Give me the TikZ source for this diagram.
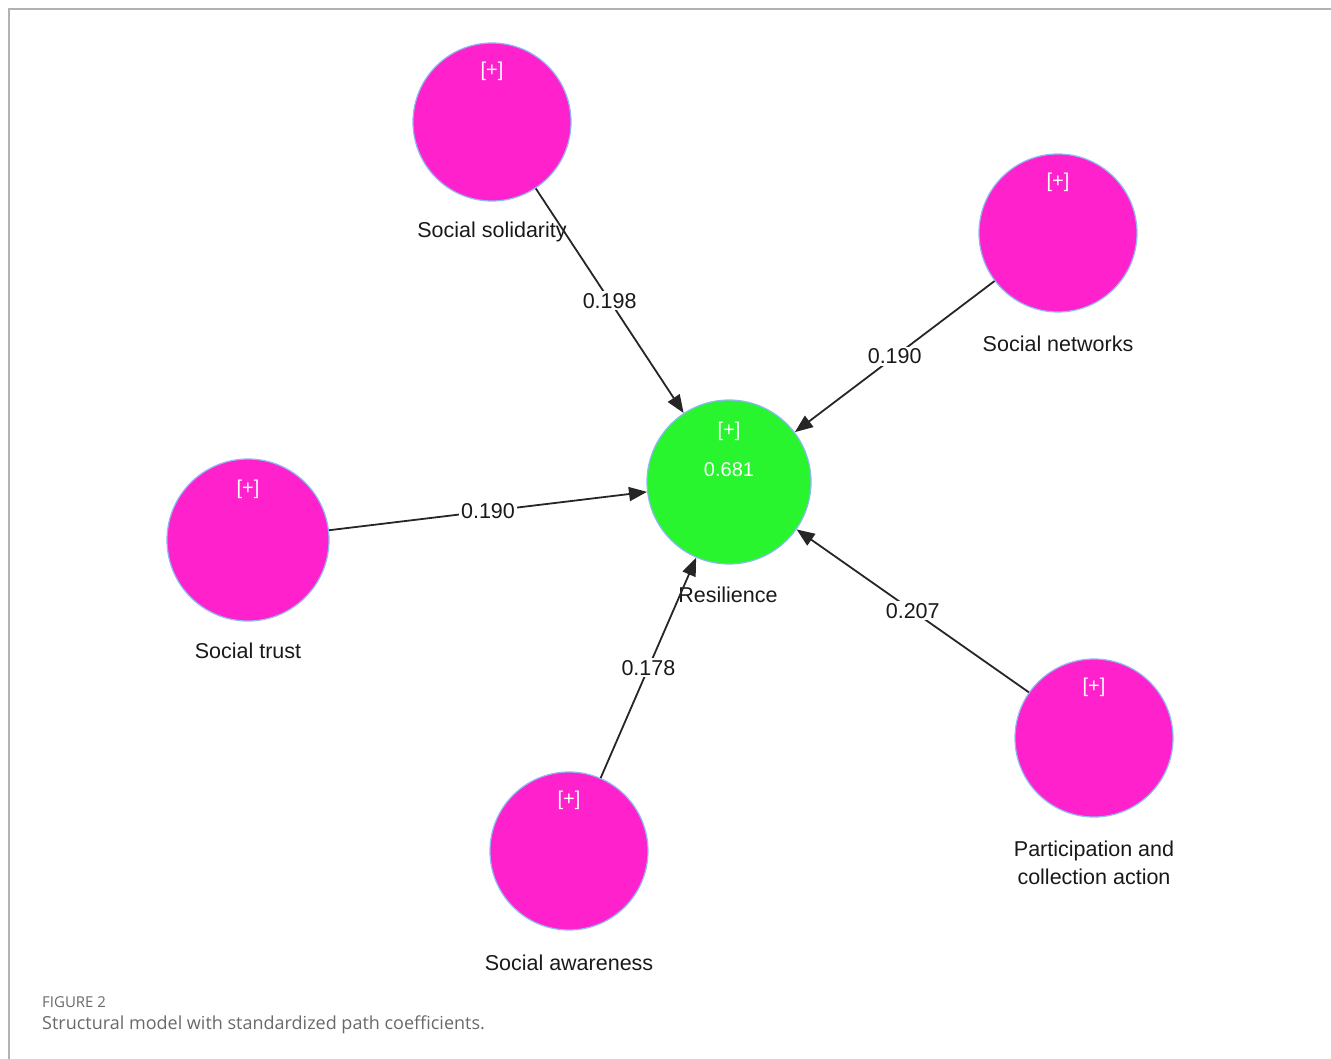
\documentclass[tikz,border=0pt]{standalone}
\usepackage{fontspec}
\setmainfont{Liberation Sans}
\newfontfamily\capfont{Open Sans}
\usetikzlibrary{arrows.meta,positioning}
\definecolor{lvpink}{RGB}{255,34,204}
\definecolor{lvgreen}{RGB}{40,245,46}
\definecolor{lvrim}{RGB}{140,185,245}
\definecolor{framegray}{RGB}{178,178,178}
\definecolor{capgray}{RGB}{105,105,105}
\tikzset{
  latent/.style={circle, fill=lvpink, draw=lvrim, line width=1.2pt, minimum size=158pt, inner sep=0pt},
  target/.style={latent, fill=lvgreen, minimum size=164pt},
  plus/.style={text=white, font=\fontsize{20}{24}\selectfont},
  lbl/.style={text=black!90, font=\fontsize{21.5}{28}\selectfont, align=center},
  link/.style={draw=black!85, line width=1.8pt, -{Triangle[length=18pt,width=14pt]}},
  coef/.style={fill=white, inner sep=2pt, text=black!90, font=\fontsize{21.5}{25}\selectfont}
}
\begin{document}
\begin{tikzpicture}[x=1pt,y=-1pt]
	\useasboundingbox (0,0) rectangle (1331,1059);
	\draw[framegray, line width=2pt] (9,1059) -- (9,9) -- (1331,9);
	% latent variables
	\node[latent] (ss) at (492,122) {};
	\node[latent] (sn) at (1058,233) {};
	\node[target] (res) at (729,482) {};
	\node[latent, minimum size=162pt] (st) at (248,540) {};
	\node[latent] (sa) at (569,851) {};
	\node[latent] (pca) at (1094,738) {};
	\foreach \n in {ss,sn,res,st,sa,pca}
		\node[plus] (\n plus) at ([yshift=51pt]\n) {[+]};
	\node[plus] (r2) at ([yshift=12pt]res) {0.681};
	% names
	\node[lbl] (sslbl) at (492,232) {Social solidarity};
	\node[lbl] (snlbl) at (1058,344) {Social networks};
	\node[lbl] (reslbl) at (728,595) {Resilience};
	\node[lbl] (stlbl) at (248,651) {Social trust};
	\node[lbl] (salbl) at (569,963) {Social awareness};
	\node[lbl] (pcalbl) at (1094,863) {Participation and\\collection action};
	% paths
	\draw[link] (ss) -- node[coef]{0.198} (res);
	\draw[link] (sn) -- node[coef]{0.190} (res);
	\draw[link] (st) -- node[coef]{0.190} (res);
	\draw[link] (sa) -- node[coef]{0.178} (res);
	\draw[link] (pca) -- node[coef]{0.207} (res);
	% caption
	\node[anchor=west, inner sep=0pt, text=capgray, font=\capfont\fontsize{15}{18}\selectfont] (fig) at (42,1002) {FIGURE 2};
	\node[anchor=west, inner sep=0pt, text=capgray, font=\capfont\fontsize{18}{22}\selectfont] (cap) at (42,1025) {Structural model with standardized path coefficients.};
\end{tikzpicture}
\end{document}
